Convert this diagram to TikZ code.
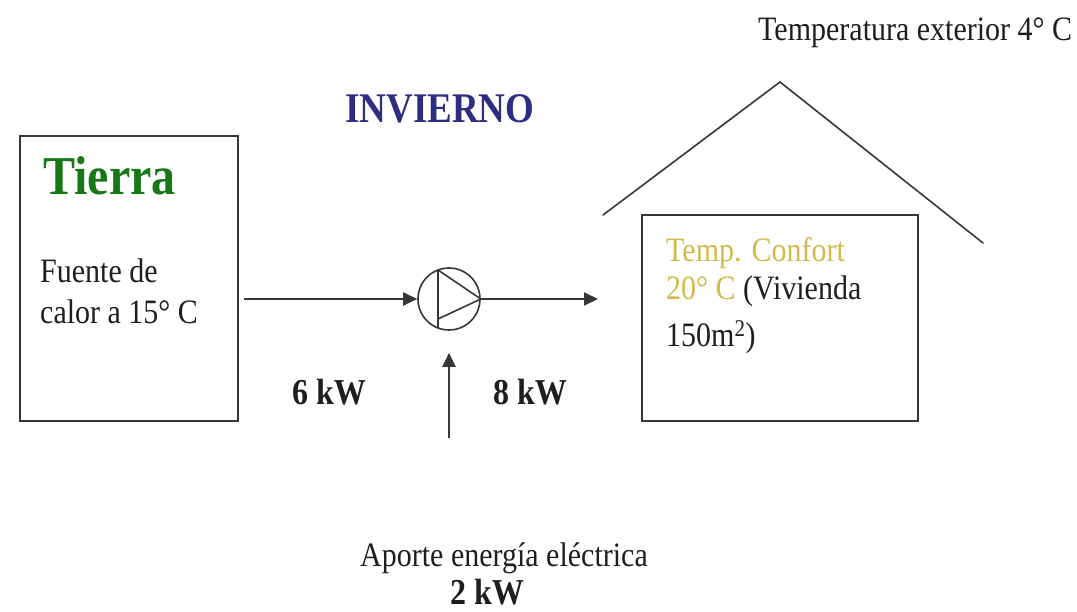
\documentclass[tikz,border=0pt]{standalone}
\usepackage{fontspec}
\setmainfont{Liberation Serif}
\usetikzlibrary{arrows.meta,calc}
\definecolor{linec}{RGB}{55,55,55}
\definecolor{txtc}{RGB}{30,30,30}
\definecolor{tierrac}{RGB}{22,120,22}
\definecolor{navyc}{RGB}{45,45,130}
\definecolor{goldc}{RGB}{212,186,72}
\newcommand{\vst}[1]{\scalebox{1}[1.14]{#1}}
\begin{document}
\begin{tikzpicture}[x=1pt,y=-1pt,
  box/.style={draw=linec,line width=2pt,inner sep=0pt},
  lbl/.style={inner sep=0pt,anchor=base west,text=txtc,font=\fontsize{30}{36}\selectfont},
  kw/.style={inner sep=0pt,anchor=base west,text=txtc,font=\fontsize{32}{38}\selectfont\bfseries},
  flow/.style={draw=linec,line width=2pt,-{Triangle[length=14pt,width=13pt]}},
  thin/.style={draw=linec,line width=1.6pt,line cap=round}]
\useasboundingbox[fill=white] (0,0) rectangle (1077,612);
% boxes
\node[box,minimum width=218pt,minimum height=285pt] (tierra) at (129,278.5) {};
\node[box,minimum width=276pt,minimum height=206pt] (casa) at (780,318) {};
% roof
\coordinate (roofL) at (603,215);
\coordinate (roofT) at (780,82);
\coordinate (roofR) at (983,243);
\draw[thin] (roofL) -- (roofT) -- (roofR);
% pump
\node[draw=linec,line width=1.6pt,circle,minimum size=62pt,inner sep=0pt] (pump) at (449,299) {};
\draw[thin,line join=round] ($(pump.center)+(-11,-29)$) -- (pump.east) -- ($(pump.center)+(-11,20)$);
\draw[thin] ($(pump.center)+(-11,-29)$) -- ($(pump.center)+(-11,29)$);
% arrows
\coordinate (outEnd) at (598,299);
\coordinate (elec) at (449,438);
\draw[flow] ([xshift=5pt]tierra.east |- pump.west) -- (pump.west);
\draw[flow] (pump.east) -- (outEnd);
\draw[flow] (elec) -- ([yshift=-22pt]pump.south);
% texts
\node[inner sep=0pt,anchor=base west,text=tierrac,font=\fontsize{48}{54}\selectfont\bfseries] (tTierra) at (43,195) {\vst{Tierra}};
\node[lbl] (tFuente) at (40,283) {\vst{Fuente de}};
\node[lbl] (tCalor) at (40,324) {\vst{calor a 15° C}};
\node[inner sep=0pt,anchor=base west,text=navyc,font=\fontsize{37}{44}\selectfont\bfseries] (tInv) at (345,123) {\vst{INVIERNO}};
\node[lbl] (tExt) at (758,41) {\vst{Temperatura exterior 4° C}};
\node[lbl,text=goldc] (tConf) at (666,262) {\vst{Temp. Confort}};
\node[lbl] (tViv) at (666,300) {\vst{\textcolor{goldc}{20° C} (Vivienda}};
\node[lbl] (tM2) at (666,347) {\vst{150m\textsuperscript{2})}};
\node[kw] (t6) at (292,405) {\vst{6 kW}};
\node[kw] (t8) at (493,405) {\vst{8 kW}};
\node[lbl] (tAporte) at (360,566) {\vst{Aporte energía eléctrica}};
\node[kw] (t2) at (450,604) {\vst{2 kW}};
\end{tikzpicture}
\end{document}
